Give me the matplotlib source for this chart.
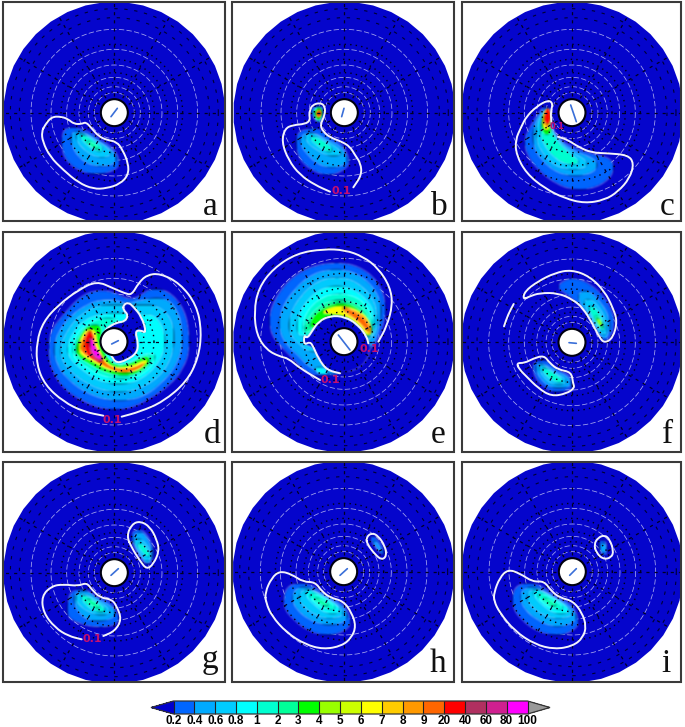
import numpy as np
from matplotlib import pyplot as plt
from matplotlib import colors as mcolors
from matplotlib import colorbar as mcolorbar
from matplotlib.path import Path
from matplotlib.patches import PathPatch, Rectangle, Circle, Polygon

bounds = [0.2, 0.4, 0.6, 0.8, 1, 2, 3, 4, 5, 6, 7, 8, 9, 20, 40, 60, 80, 100]
bar_colors = ['#0066ff', '#00aaff', '#00ccff', '#00ffff', '#00ffd0', '#00ff99', '#00ff00', '#99ff00',
              '#ccff00', '#ffff00', '#ffcc00', '#ff9900', '#ff6600', '#ff0000', '#b03060', '#d02090', '#ff00ff']
letters = ['a', 'b', 'c', 'd', 'e', 'f', 'g', 'h', 'i']

crop_x = [0, 230, 458, 0, 230, 458, 0, 230, 458]
crop_y = [0, 0, 0, 225, 225, 228, 456, 456, 456]
center_x = [343, 343, 342, 342, 342, 342, 343, 341, 343]
center_y = [338, 338, 338, 350, 350, 343, 350, 347, 347]
frames = [(3, 2, 225.5, 221), (232.5, 2, 454, 221), (462, 2, 681, 221),
          (3, 232, 225.5, 452), (232.5, 232, 454, 452), (462, 232, 681, 452),
          (3, 461.5, 225.5, 682), (232.5, 461.5, 454, 682), (462, 461.5, 681, 682)]
letter_xy = [(630, 645), (628, 645), (628, 645), (635, 655), (625, 655), (628, 645), (630, 635), (625, 648), (625, 648)]
needles = [[(333, 350), (352, 325)], [(335, 350), (342, 325)], [(338, 315), (355, 365)],
           [(335, 357), (355, 347)], [(325, 330), (360, 375)], [(333, 344), (355, 346)],
           [(333, 358), (355, 338)], [(330, 358), (352, 338)], [(335, 358), (355, 338)]]

a_lines = [[(135, 375), (155, 350), (185, 350), (205, 358), (222, 372), (245, 372), (258, 366), (275, 385), (295, 408),
            (320, 420), (350, 425), (368, 450), (385, 490), (385, 525), (360, 552), (320, 565), (280, 567), (235, 548),
            (190, 510), (150, 470), (128, 425), (125, 395), (135, 375)]]
a_fills = [(0.2, [(185, 400), (205, 380), (240, 385), (275, 400), (300, 420), (335, 440), (355, 470), (360, 495), (335, 515), (290, 525), (245, 515), (205, 490), (185, 450)]),
           (0.4, [(212, 400), (235, 392), (265, 405), (295, 425), (330, 445), (350, 470), (345, 490), (310, 500), (270, 495), (235, 470), (215, 435)]),
           (0.6, [(225, 400), (250, 398), (285, 420), (325, 445), (335, 465), (300, 475), (260, 455), (235, 430)]),
           (1, [(235, 405), (255, 405), (285, 425), (310, 445), (300, 458), (265, 440)]),
           (2, [(255, 420), (280, 430), (300, 448), (280, 445)])]

b_lines = [[(370, 562), (395, 525), (392, 490), (375, 465), (360, 440), (335, 425), (300, 412), (280, 395), (270, 375),
            (285, 345), (285, 318), (270, 308), (247, 315), (240, 330), (238, 345), (240, 362), (225, 372), (190, 375),
            (165, 385), (155, 425), (175, 480), (210, 525), (255, 555), (300, 575)]]
b_fills = [(0.2, [(205, 395), (240, 385), (265, 385), (300, 415), (335, 430), (355, 470), (360, 490), (335, 515), (290, 528), (245, 510), (210, 480), (195, 430)]),
           (0.4, [(212, 410), (240, 392), (290, 420), (335, 440), (352, 475), (345, 495), (300, 505), (260, 490), (230, 460), (212, 435)]),
           (0.6, [(225, 405), (250, 398), (290, 425), (330, 450), (335, 465), (300, 470), (260, 450), (230, 425)]),
           (1, [(235, 410), (260, 410), (310, 445), (300, 460), (265, 440)]),
           (0.4, [(245, 325), (268, 315), (280, 325), (280, 350), (268, 372), (252, 355), (245, 340)]),
           (0.8, [(250, 330), (268, 318), (278, 330), (275, 355), (265, 365), (252, 350)]),
           (3, [(255, 328), (270, 320), (277, 335), (272, 358), (262, 362), (253, 345)]),
           (6, [(256, 335), (270, 325), (276, 338), (270, 355), (260, 352)]),
           (9, [(258, 335), (272, 328), (275, 342), (268, 352), (260, 350)]),
           (20, [(262, 338), (270, 335), (272, 345), (265, 348)])]

c_lines = [[(300, 410), (330, 420), (360, 440), (400, 458), (450, 460), (510, 465), (528, 490), (515, 535), (480, 575),
            (440, 600), (380, 610), (320, 595), (260, 565), (205, 520), (175, 465), (172, 420), (190, 380), (205, 350),
            (235, 320), (270, 300), (285, 310), (278, 335), (280, 365)]]
c_fills = [(0.2, [(215, 385), (240, 340), (260, 318), (280, 330), (280, 385), (305, 420), (350, 445), (400, 462), (450, 472), (470, 495), (460, 530), (420, 560), (360, 572), (300, 555), (240, 510), (205, 460), (198, 420)]),
           (0.4, [(225, 385), (250, 335), (270, 325), (278, 380), (305, 425), (350, 455), (400, 472), (420, 490), (410, 515), (360, 530), (300, 520), (250, 480), (225, 435)]),
           (0.6, [(235, 380), (255, 335), (270, 330), (278, 385), (305, 430), (345, 460), (390, 485), (380, 505), (330, 510), (280, 490), (245, 445), (235, 410)]),
           (1, [(245, 385), (258, 340), (272, 335), (278, 390), (300, 430), (340, 465), (370, 490), (330, 495), (290, 475), (255, 430)]),
           (3, [(250, 375), (258, 335), (275, 335), (278, 385), (280, 395), (270, 405), (255, 400)]),
           (6, [(252, 365), (258, 330), (275, 330), (278, 380), (268, 395), (255, 385)]),
           (8, [(256, 355), (262, 325), (275, 325), (278, 370), (268, 385), (258, 375)]),
           (20, [(260, 350), (265, 325), (275, 325), (278, 360), (270, 375), (260, 365)])]

d_lines = [[(365, 575), (420, 560), (490, 530), (560, 470), (595, 400), (605, 320), (590, 240), (540, 175), (480, 145),
            (440, 150), (415, 175), (395, 210), (375, 205), (340, 190), (290, 168), (235, 195), (175, 240), (130, 290),
            (110, 350), (110, 420), (135, 480), (190, 530), (250, 560), (310, 572)],
           [(370, 240), (385, 232), (400, 245), (425, 275), (440, 325), (420, 315), (405, 320), (415, 355), (410, 385),
            (380, 405), (350, 415), (335, 395), (315, 355), (305, 335), (320, 310), (350, 292), (375, 290), (385, 270),
            (370, 255), (370, 240)]]
d_fills = [(0.2, [(145, 380), (150, 320), (190, 270), (240, 215), (290, 195), (340, 200), (385, 225), (420, 215), (450, 190), (500, 195), (545, 240), (565, 300), (570, 370), (550, 430), (510, 480), (450, 520), (390, 550), (320, 555), (250, 530), (190, 490), (155, 435)]),
           (0.4, [(160, 370), (175, 320), (215, 270), (260, 240), (300, 225), (350, 225), (380, 240), (420, 225), (500, 215), (540, 270), (550, 350), (530, 420), (480, 480), (420, 520), (340, 530), (260, 505), (200, 460), (170, 415)]),
           (0.6, [(180, 370), (200, 320), (240, 270), (300, 240), (360, 240), (420, 240), (470, 240), (515, 280), (525, 350), (505, 420), (460, 470), (390, 500), (320, 500), (250, 470), (205, 430), (185, 400)]),
           (0.8, [(200, 370), (220, 320), (260, 280), (320, 265), (375, 265), (420, 270), (470, 270), (500, 340), (480, 410), (430, 460), (370, 480), (300, 470), (240, 430), (210, 400)]),
           (1, [(215, 370), (235, 320), (275, 290), (310, 280), (340, 280), (360, 290), (320, 300), (300, 340), (315, 390), (345, 420), (390, 415), (425, 390), (455, 385), (470, 395), (440, 440), (380, 465), (310, 455), (250, 420), (225, 400)]),
           (3, [(225, 370), (245, 320), (270, 300), (300, 300), (305, 320), (300, 345), (312, 385), (340, 422), (385, 420), (430, 395), (450, 395), (445, 425), (390, 455), (320, 445), (265, 415), (235, 395)]),
           (6, [(232, 365), (250, 320), (272, 308), (290, 320), (290, 345), (310, 400), (340, 428), (390, 425), (440, 400), (445, 415), (400, 445), (330, 440), (275, 410), (240, 390)]),
           (9, [(240, 360), (255, 325), (272, 312), (285, 335), (285, 370), (310, 410), (345, 432), (400, 430), (435, 410), (430, 425), (385, 445), (330, 435), (285, 405), (245, 385)]),
           (20, [(252, 355), (262, 325), (275, 320), (282, 350), (290, 385), (312, 415), (290, 410), (260, 390)]),
           (60, [(265, 350), (272, 330), (285, 365), (310, 400), (305, 412), (280, 400), (268, 375)]),
           (80, [(270, 345), (275, 335), (282, 365), (305, 395), (305, 405), (285, 395), (272, 370)])]
d_holes = [[(370, 240), (385, 232), (400, 245), (425, 275), (440, 325), (420, 315), (405, 320), (415, 355), (410, 385), (380, 405), (350, 415), (335, 395), (315, 355), (305, 335), (320, 310), (350, 292), (375, 290), (385, 270), (370, 255)]]

e_lines = [[(445, 350), (470, 305), (488, 240), (480, 185), (445, 130), (400, 95), (345, 75), (280, 72), (200, 85),
            (130, 130), (85, 190), (72, 260), (80, 330), (110, 375), (150, 395), (175, 400), (210, 430), (270, 465)],
           [(330, 445), (290, 435), (265, 400), (250, 365), (240, 350), (222, 360), (222, 330), (232, 340), (245, 320),
            (265, 290), (300, 272), (345, 275), (385, 300), (410, 335), (415, 355)]]
e_fills = [(0.2, [(445, 340), (462, 290), (470, 240), (445, 170), (390, 125), (320, 110), (240, 125), (175, 165), (130, 230), (115, 290), (130, 340), (175, 385), (215, 430), (260, 455), (310, 450), (340, 440), (425, 370)]),
           (0.4, [(440, 335), (450, 290), (455, 240), (430, 185), (380, 145), (320, 130), (250, 145), (195, 190), (155, 250), (145, 310), (170, 360), (205, 390), (235, 425), (280, 445), (330, 445), (425, 360)]),
           (0.6, [(435, 330), (445, 280), (430, 220), (380, 170), (320, 155), (260, 170), (210, 215), (180, 270), (175, 320), (205, 355), (250, 390), (400, 350)]),
           (0.8, [(430, 330), (435, 280), (420, 235), (375, 195), (320, 180), (265, 195), (220, 240), (200, 290), (205, 335), (240, 330), (280, 280), (410, 340)]),
           (1, [(428, 325), (428, 280), (400, 230), (360, 210), (320, 205), (270, 220), (230, 260), (215, 310), (230, 340), (280, 290), (405, 330)]),
           (2, [(425, 325), (420, 280), (395, 245), (350, 225), (310, 225), (265, 245), (235, 280), (222, 320), (240, 320), (280, 280), (410, 330)]),
           (3, [(422, 325), (415, 285), (385, 250), (350, 235), (310, 235), (265, 258), (240, 290), (245, 318), (300, 272), (345, 275), (385, 300), (410, 335)]),
           (6, [(428, 325), (420, 290), (395, 260), (345, 240), (300, 245), (270, 265), (300, 268), (345, 272), (385, 298), (410, 335)]),
           (8, [(425, 325), (418, 290), (390, 262), (345, 245), (335, 248), (345, 265), (375, 282), (395, 300), (412, 325)]),
           (9, [(420, 315), (410, 290), (385, 268), (350, 250), (340, 252), (360, 268), (390, 290), (410, 315)])]
e_holes = [[(330, 445), (290, 435), (265, 400), (250, 365), (222, 360), (222, 330), (232, 340), (245, 320), (265, 290), (300, 272), (345, 275), (385, 300), (410, 335), (425, 370), (400, 420), (360, 440)]]
e_after = [(0.8, [(250, 430), (275, 425), (300, 445), (270, 450)])]

f_lines = [[(195, 215), (200, 190), (240, 160), (290, 135), (340, 125), (395, 145), (440, 190), (465, 240), (478, 280),
            (465, 330), (440, 345), (425, 330), (405, 290), (375, 240), (345, 215), (300, 195), (245, 195), (215, 205), (195, 215)],
           [(175, 405), (200, 405), (225, 392), (258, 382), (275, 405), (300, 425), (340, 432), (345, 465), (350, 480),
            (325, 497), (280, 505), (240, 480), (205, 445), (185, 425), (175, 405)],
           [(138, 295), (150, 260), (167, 228)]]
f_fills = [(0.2, [(295, 178), (320, 155), (355, 150), (400, 170), (440, 210), (465, 255), (470, 290), (455, 330), (440, 340), (425, 325), (400, 275), (365, 230), (330, 200)]),
           (0.4, [(360, 195), (390, 185), (430, 225), (455, 270), (455, 310), (440, 335), (425, 320), (395, 265), (365, 225)]),
           (0.6, [(375, 215), (405, 215), (440, 265), (447, 305), (438, 325), (415, 295), (390, 250)]),
           (1, [(390, 235), (410, 235), (435, 275), (440, 305), (430, 310), (405, 270)]),
           (2, [(405, 262), (425, 265), (437, 295), (430, 305)]),
           (4, [(412, 270), (425, 272), (435, 292), (428, 298)]),
           (0.2, [(222, 410), (240, 398), (265, 395), (295, 425), (335, 440), (345, 470), (335, 485), (290, 495), (255, 475), (230, 445)]),
           (0.4, [(230, 415), (250, 402), (290, 430), (330, 445), (340, 470), (320, 480), (280, 480), (245, 450)]),
           (0.6, [(240, 415), (255, 410), (290, 435), (325, 455), (320, 470), (285, 470), (255, 445)]),
           (1, [(250, 420), (262, 420), (295, 440), (318, 460), (300, 465), (265, 445)])]

g_lines = [[(310, 540), (345, 525), (365, 490), (350, 450), (335, 430), (300, 425), (275, 400), (260, 380), (235, 390),
            (190, 385), (155, 390), (125, 420), (130, 470), (165, 515), (205, 540), (245, 550)],
           [(380, 240), (395, 205), (420, 195), (450, 212), (470, 250), (478, 285), (460, 325), (440, 340), (420, 315), (395, 275), (380, 240)]]
g_fills = [(0.2, [(205, 430), (215, 405), (255, 395), (285, 425), (330, 435), (350, 470), (360, 490), (340, 510), (290, 515), (250, 505), (210, 490), (200, 465)]),
           (0.4, [(218, 425), (235, 405), (265, 405), (300, 435), (335, 450), (350, 475), (320, 495), (270, 495), (235, 470)]),
           (0.6, [(225, 420), (245, 410), (295, 435), (335, 465), (310, 480), (270, 470), (235, 445)]),
           (1, [(240, 420), (260, 418), (300, 445), (320, 465), (295, 470), (260, 450)]),
           (2, [(255, 428), (275, 432), (305, 458), (280, 452)]),
           (0.2, [(392, 240), (405, 220), (430, 222), (455, 260), (465, 295), (445, 330), (425, 310), (400, 270)]),
           (0.4, [(395, 250), (415, 225), (440, 240), (460, 295), (445, 328), (425, 305)]),
           (0.6, [(400, 255), (420, 245), (450, 280), (455, 305), (440, 318), (415, 285)]),
           (1, [(410, 265), (425, 260), (450, 295), (445, 305), (425, 285)])]

h_lines = [[(105, 410), (125, 365), (150, 345), (185, 355), (220, 378), (255, 378), (275, 405), (300, 425), (340, 435),
            (365, 470), (378, 510), (365, 545), (335, 570), (280, 580), (225, 565), (170, 530), (125, 480), (108, 440), (105, 410)],
           [(408, 245), (425, 230), (445, 240), (465, 270), (470, 300), (455, 312), (435, 295), (412, 265), (408, 245)]]
h_fills = [(0.2, [(160, 430), (170, 395), (200, 380), (240, 385), (270, 405), (300, 425), (335, 440), (355, 470), (365, 505), (335, 530), (290, 540), (235, 525), (190, 490), (165, 460)]),
           (0.4, [(185, 430), (195, 400), (225, 390), (265, 410), (300, 430), (335, 450), (355, 480), (340, 500), (290, 510), (235, 490), (200, 460)]),
           (0.6, [(205, 420), (225, 395), (265, 412), (300, 435), (335, 460), (340, 480), (290, 490), (245, 470), (215, 445)]),
           (0.8, [(220, 410), (240, 400), (285, 425), (325, 450), (330, 470), (295, 475), (255, 450)]),
           (1, [(235, 415), (255, 412), (300, 440), (320, 460), (290, 460), (255, 440)]),
           (2, [(250, 425), (270, 430), (300, 450), (280, 450)]),
           (0.2, [(418, 248), (430, 238), (450, 260), (462, 285), (462, 300), (445, 285)]),
           (0.4, [(428, 255), (438, 255), (458, 290), (450, 288)])]

i_lines = [[(108, 410), (125, 365), (150, 340), (185, 352), (225, 378), (258, 375), (280, 405), (305, 425), (345, 435),
            (372, 470), (385, 510), (375, 545), (345, 570), (290, 580), (230, 565), (170, 525), (125, 470), (108, 435), (108, 410)],
           [(408, 265), (420, 245), (440, 237), (455, 250), (467, 285), (460, 305), (435, 310), (415, 290), (408, 265)]]
i_fills = [(0.2, [(162, 430), (170, 395), (200, 380), (240, 385), (270, 405), (305, 430), (335, 440), (355, 470), (365, 505), (335, 530), (295, 540), (235, 525), (190, 490), (168, 460)]),
           (0.4, [(185, 425), (195, 400), (225, 390), (265, 410), (300, 430), (335, 450), (360, 485), (335, 505), (290, 515), (235, 490), (200, 460)]),
           (0.6, [(205, 420), (225, 395), (265, 412), (300, 435), (335, 460), (345, 480), (290, 490), (245, 470), (215, 445)]),
           (0.8, [(220, 410), (240, 400), (285, 425), (325, 450), (335, 470), (295, 475), (255, 450)]),
           (1, [(235, 415), (255, 412), (300, 440), (320, 460), (290, 460), (255, 440)]),
           (2, [(250, 425), (270, 430), (300, 450), (280, 450)]),
           (0.2, [(420, 262), (435, 248), (450, 270), (445, 300), (430, 295)]),
           (0.4, [(425, 268), (438, 258), (446, 275), (440, 292), (430, 285)])]

panel_lines = [a_lines, b_lines, c_lines, d_lines, e_lines, f_lines, g_lines, h_lines, i_lines]
panel_fills = [a_fills, b_fills, c_fills, d_fills, e_fills, f_fills, g_fills, h_fills, i_fills]
panel_holes = {3: d_holes, 4: e_holes}
panel_after = {4: e_after}
# contour labels: panel index, crop position
label_panel = [1, 2, 3, 4, 4, 6]
label_xy = [(335, 572), (296, 380), (338, 585), (418, 372), (300, 465), (277, 548)]

white_rings = [250, 190, 143, 106, 78, 60]
dot_rings = [62, 90, 120, 160, 205]
dash_rings = [285, 312]

DEEP = '#0505cc'
cmap = mcolors.ListedColormap(bar_colors)
cmap.set_under('#0000cd')
cmap.set_over('#999999')
norm = mcolors.BoundaryNorm(bounds, cmap.N)


def soften(image, dpi):
    # small blur, the reference is a resampled bitmap
    pad = 4
    A = np.pad(image, ((pad, pad), (pad, pad), (0, 0)))
    k = [0.08, 0.24, 0.36, 0.24, 0.08]
    for axis in (0, 1):
        A = sum(w * np.roll(A, i - 2, axis=axis) for i, w in enumerate(k))
    return A, -pad, -pad


def to_px(pts, n):
    pts = np.asarray(pts, dtype=float)
    return np.column_stack([crop_x[n] + pts[:, 0] / 3, crop_y[n] + pts[:, 1] / 3])


def smooth_path(p, closed):
    # quadratic curves through the segment midpoints, so digitized corners get rounded
    if closed:
        mid = (p + np.roll(p, -1, axis=0)) / 2
        verts = [mid[-1]]
        codes = [Path.MOVETO]
        for i in range(len(p)):
            verts += [p[i], mid[i]]
            codes += [Path.CURVE3, Path.CURVE3]
        return Path(verts, codes)
    mid = (p[:-1] + p[1:]) / 2
    verts = [p[0], mid[0]]
    codes = [Path.MOVETO, Path.LINETO]
    for i in range(1, len(p) - 1):
        verts += [p[i], mid[i]]
        codes += [Path.CURVE3, Path.CURVE3]
    verts.append(p[-1])
    codes.append(Path.LINETO)
    return Path(verts, codes)


fig = plt.figure(figsize=(6.85, 7.27), dpi=100)
ax = fig.add_axes([0, 0, 1, 1])
ax.set_xlim(0, 685)
ax.set_ylim(727, 0)
ax.axis('off')

theta = np.linspace(0, 2 * np.pi, 361)
for n in range(9):
    x0, y0, x1, y1 = frames[n]
    clip = Rectangle((x0, y0), x1 - x0, y1 - y0, transform=ax.transData)
    cx = crop_x[n] + center_x[n] / 3
    cy = crop_y[n] + center_y[n] / 3

    sides = np.linspace(0, 2 * np.pi, 37)[:-1] + np.pi / 36
    disc = Polygon(np.column_stack([cx + 111 * np.cos(sides), cy + 111 * np.sin(sides)]), fc=DEEP, ec='none', zorder=1)
    ax.add_patch(disc)
    disc.set_clip_path(clip)

    for r in white_rings:
        ax.plot(cx + r / 3 * np.cos(theta), cy + r / 3 * np.sin(theta), color='#a8a8ee', lw=0.55,
                ls=(0, (7, 3)), zorder=2)

    for level, pts in panel_fills[n]:
        patch = PathPatch(smooth_path(to_px(pts, n), True), fc=cmap(norm(level)), ec='none', zorder=3)
        ax.add_patch(patch)
        patch.set_agg_filter(soften)
    for pts in panel_holes.get(n, []):
        patch = PathPatch(smooth_path(to_px(pts, n), True), fc=DEEP, ec='none', zorder=4)
        ax.add_patch(patch)
        patch.set_agg_filter(soften)
    for level, pts in panel_after.get(n, []):
        patch = PathPatch(smooth_path(to_px(pts, n), True), fc=cmap(norm(level)), ec='none', zorder=4)
        ax.add_patch(patch)
        patch.set_agg_filter(soften)

    for r in dot_rings:
        ax.plot(cx + r / 3 * np.cos(theta), cy + r / 3 * np.sin(theta), color='#000015', lw=1.0,
                ls=(0, (1, 3)), zorder=5)
    for r in dash_rings:
        ax.plot(cx + r / 3 * np.cos(theta), cy + r / 3 * np.sin(theta), color='#000033', lw=0.8,
                ls=(0, (3, 6)), zorder=5)
    for deg in range(0, 360, 30):
        c, s = np.cos(np.radians(deg)), np.sin(np.radians(deg))
        line = ax.plot([cx + 50 * c / 3, cx + 112 * c], [cy + 50 * s / 3, cy + 112 * s], color='#000022', lw=0.9,
                       ls=(0, (2.5, 4)), zorder=5)[0]
        line.set_clip_path(clip)

    for pts in panel_lines[n]:
        p = to_px(pts, n)
        closed = np.allclose(p[0], p[-1])
        path = smooth_path(p[:-1] if closed else p, closed)
        patch = PathPatch(path, fc='none', ec='#f2f2fa', lw=1.4, zorder=6, capstyle='round')
        ax.add_patch(patch)

    ax.add_patch(Circle((cx, cy), 13.5, fc='white', ec='#000010', lw=1.5, zorder=7))
    nd = to_px(needles[n], n)
    ax.plot(nd[:, 0], nd[:, 1], color='#3a6fd8', lw=1.2, zorder=8, solid_capstyle='round')

    lx, ly = to_px([letter_xy[n]], n)[0]
    ax.text(lx, ly, letters[n], family='Liberation Serif', fontsize=24, ha='center', va='baseline', color='#111111', zorder=9)
    ax.add_patch(Rectangle((x0, y0), x1 - x0, y1 - y0, fc='none', ec='#3a3a3a', lw=1.5, zorder=9))

for n, xy in zip(label_panel, label_xy):
    lx, ly = to_px([xy], n)[0]
    ax.text(lx, ly, '0.1', color='#c41070', fontsize=8 if n != 2 else 6, fontweight='bold', ha='center', va='center',
            zorder=8, family='DejaVu Sans')

cax = fig.add_axes([151 / 685, 1 - 714 / 727, 399 / 685, 13 / 727])
cb = mcolorbar.ColorbarBase(cax, cmap=cmap, norm=norm, boundaries=[0.1] + bounds + [110], orientation='horizontal',
                            extend='both', extendfrac=22.5 / 354, spacing='uniform', ticks=bounds, drawedges=True)
cb.ax.set_xticklabels([str(b) for b in bounds], fontsize=8.5, fontweight='bold', family='Liberation Sans')
cb.ax.tick_params(length=0, pad=0.5)
cb.minorticks_off()
cb.outline.set_linewidth(0.9)
cb.outline.set_edgecolor('#333333')
cb.dividers.set_color('#222222')
cb.dividers.set_linewidth(0.8)

plt.savefig("out.png", dpi=100)
